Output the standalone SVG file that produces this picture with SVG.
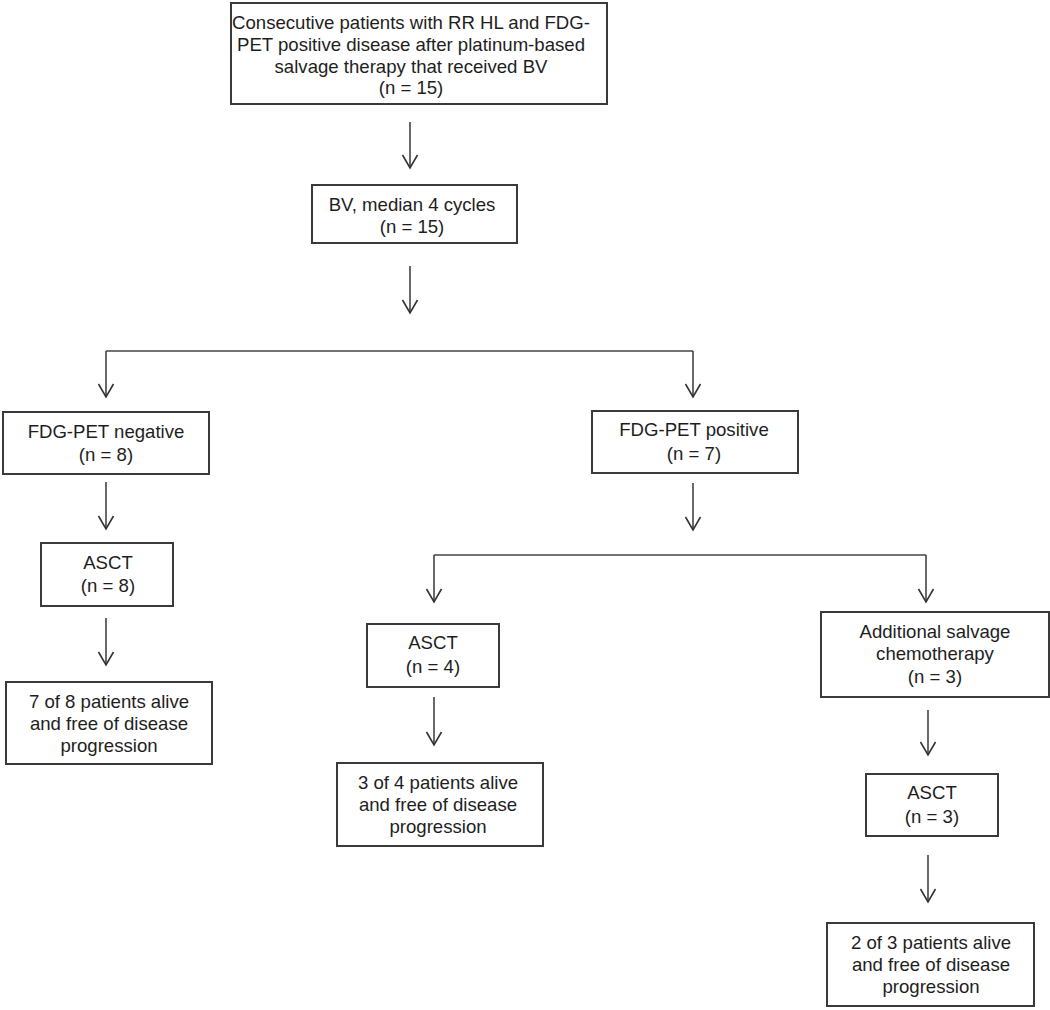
<svg xmlns="http://www.w3.org/2000/svg" width="1050" height="1010" viewBox="0 0 1050 1010">
<defs>
<marker id="ah" markerUnits="userSpaceOnUse" markerWidth="20" markerHeight="20" viewBox="-15 -10 20 20" refX="0" refY="0" orient="auto" overflow="visible">
<path d="M -13,-7.5 L 0,0 L -13,7.5" fill="none" stroke="#333" stroke-width="1.6"/>
</marker>
</defs>
<style>
.box{fill:#fff;stroke:#3a3a3a;stroke-width:2}
.t{font-family:"Liberation Sans",Arial,sans-serif;font-size:18.6px;fill:#1e1e1e;text-anchor:middle}
.c{fill:none;stroke:#444;stroke-width:1.6}
.a{marker-end:url(#ah)}
</style>
<rect width="1050" height="1010" fill="#fff"/>
<g id="connectors">
<line class="c a" x1="410" y1="122" x2="410" y2="168"/>
<line class="c a" x1="410" y1="266" x2="410" y2="313"/>
<path class="c" d="M106,351 H693"/>
<line class="c a" x1="106" y1="351" x2="106" y2="397"/>
<line class="c a" x1="693" y1="351" x2="693" y2="397"/>
<line class="c a" x1="106" y1="482" x2="106" y2="529"/>
<line class="c a" x1="106" y1="618" x2="106" y2="665"/>
<line class="c a" x1="693" y1="483" x2="693" y2="530"/>
<path class="c" d="M434,555 H926"/>
<line class="c a" x1="434" y1="555" x2="434" y2="602"/>
<line class="c a" x1="926" y1="555" x2="926" y2="602"/>
<line class="c a" x1="434" y1="697" x2="434" y2="745"/>
<line class="c a" x1="928" y1="710" x2="928" y2="755"/>
<line class="c a" x1="928" y1="855" x2="928" y2="902"/>
</g>
<g id="start">
<rect class="box" x="231" y="3" width="376" height="101"/>
<text class="t" x="411" y="29">Consecutive patients with RR HL and FDG-</text>
<text class="t" x="411" y="51">PET positive disease after platinum-based</text>
<text class="t" x="411" y="73">salvage therapy that received BV</text>
<text class="t" x="411" y="94">(n = 15)</text>
</g>
<g id="bv">
<rect class="box" x="312" y="185" width="205" height="58"/>
<text class="t" x="412" y="211">BV, median 4 cycles</text>
<text class="t" x="412" y="233">(n = 15)</text>
</g>
<g id="pet-neg">
<rect class="box" x="3" y="412" width="206" height="62"/>
<text class="t" x="106" y="438">FDG-PET negative</text>
<text class="t" x="106" y="461">(n = 8)</text>
</g>
<g id="pet-pos">
<rect class="box" x="592" y="411" width="206" height="62"/>
<text class="t" x="694" y="436">FDG-PET positive</text>
<text class="t" x="694" y="460">(n = 7)</text>
</g>
<g id="asct-neg">
<rect class="box" x="41" y="543" width="132" height="63"/>
<text class="t" x="108" y="569">ASCT</text>
<text class="t" x="108" y="592">(n = 8)</text>
</g>
<g id="outcome-neg">
<rect class="box" x="6" y="682" width="206" height="82"/>
<text class="t" x="109" y="708">7 of 8 patients alive</text>
<text class="t" x="109" y="730">and free of disease</text>
<text class="t" x="109" y="752">progression</text>
</g>
<g id="asct-pos">
<rect class="box" x="367" y="624" width="132" height="63"/>
<text class="t" x="433" y="649">ASCT</text>
<text class="t" x="433" y="673">(n = 4)</text>
</g>
<g id="outcome-pos">
<rect class="box" x="337" y="763" width="206" height="83"/>
<text class="t" x="438" y="789">3 of 4 patients alive</text>
<text class="t" x="438" y="811">and free of disease</text>
<text class="t" x="438" y="833">progression</text>
</g>
<g id="salvage">
<rect class="box" x="821" y="612" width="228" height="85"/>
<text class="t" x="935" y="638">Additional salvage</text>
<text class="t" x="935" y="660">chemotherapy</text>
<text class="t" x="935" y="683">(n = 3)</text>
</g>
<g id="asct-salvage">
<rect class="box" x="866" y="774" width="132" height="62"/>
<text class="t" x="932" y="799">ASCT</text>
<text class="t" x="932" y="823">(n = 3)</text>
</g>
<g id="outcome-salvage">
<rect class="box" x="827" y="923" width="207" height="83"/>
<text class="t" x="931" y="949">2 of 3 patients alive</text>
<text class="t" x="931" y="971">and free of disease</text>
<text class="t" x="931" y="993">progression</text>
</g>
</svg>
